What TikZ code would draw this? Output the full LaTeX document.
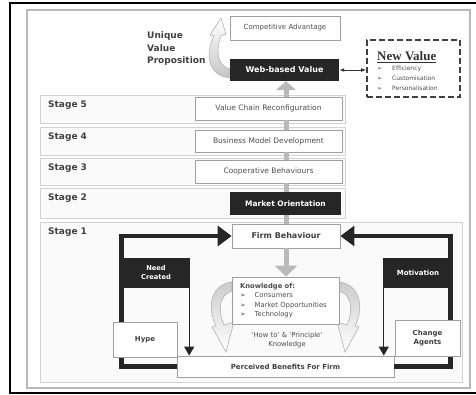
\documentclass[tikz,border=0pt]{standalone}
\usepackage{fontspec}
\setmainfont{DejaVu Sans}
\newfontfamily\headserif{Liberation Serif}
\usetikzlibrary{arrows.meta}

\tikzset{
  band/.style={draw=gray!35, fill=gray!4, line width=0.8pt, inner sep=0pt, anchor=north west},
  stagelabel/.style={anchor=west, inner sep=0pt, text=black!75, font=\fontsize{9}{10}\selectfont\bfseries},
  litebox/.style={draw=gray!75, fill=white, line width=0.8pt, inner sep=0pt, text=gray!60!black, font=\fontsize{7.5}{9}\selectfont},
  boldbox/.style={litebox, text=black!75, align=center, font=\fontsize{7}{9}\selectfont\bfseries},
  darkbox/.style={fill=black!85, inner sep=0pt, text=white, align=center, font=\fontsize{7}{9}\selectfont\bfseries},
  flowline/.style={line width=5pt, gray!55},
  loopline/.style={line width=4.5pt, black!85, -{Triangle[length=14pt,width=20pt]}},
  dropline/.style={line width=1.2pt, black!85, -{Triangle[length=9pt,width=10pt]}},
  curlarrow/.style={draw=gray!60, line width=0.6pt}
}

\begin{document}
\begin{tikzpicture}[x=1pt,y=-1pt]
    \useasboundingbox (0,0) rectangle (476,395);

    % frames
    \draw[black, line width=2pt] (10,3) rectangle (478,393);
    \draw[gray!55, line width=1.2pt] (27,10) rectangle (470,388);

    % stage bands
    \foreach \n/\top/\h in {5/95/28, 4/127/28, 3/158/27, 2/188/30} {
      \node[band, minimum width=305pt, minimum height=\h pt] (band\n) at (40,\top) {};
      \node[stagelabel] (label\n) at ([xshift=8pt,yshift=-10pt]band\n.north west) {Stage \n};
    }
    \node[band, minimum width=422pt, minimum height=160pt] (band1) at (40,222) {};
    \node[stagelabel] (label1) at ([xshift=8pt,yshift=-10pt]band1.north west) {Stage 1};

    % curled arrows
    \path[curlarrow, top color=white, bottom color=gray!45]
      (230,78) .. controls (209,76) and (204,55) .. (214,36)
      -- (210,35) -- (221,18) -- (226,34) -- (221,36)
      .. controls (215,52) and (218,66) .. (230,69) -- cycle;
    \path[curlarrow, top color=gray!40, bottom color=white]
      (232,282) .. controls (212,284) and (206,306) .. (216,326)
      -- (212,327) -- (226,352) -- (234,322) -- (224,325)
      .. controls (217,309) and (220,294) .. (232,291) -- cycle;
    \path[curlarrow, top color=gray!40, bottom color=white]
      (339,282) .. controls (359,284) and (365,306) .. (355,326)
      -- (359,327) -- (345,352) -- (337,322) -- (347,325)
      .. controls (354,309) and (351,294) .. (339,291) -- cycle;

    \node[anchor=west, align=left, inner sep=0pt, text=black!75, font=\fontsize{9}{12.5}\selectfont\bfseries] (uvp) at (147,49) {Unique\\Value\\Proposition};

    % value chain boxes
    \node[litebox, minimum width=110pt, minimum height=24pt, font=\fontsize{7}{9}\selectfont] (compadv) at (285,28) {Competitive Advantage};
    \node[darkbox, minimum width=109pt, minimum height=22pt, font=\fontsize{8}{9}\selectfont\bfseries] (webval) at (284.5,70) {Web-based Value};
    \node[litebox, minimum width=147pt, minimum height=23pt] (valchain) at (268.5,108.5) {Value Chain Reconfiguration};
    \node[litebox, minimum width=147pt, minimum height=22pt] (busmodel) at (268.5,141) {Business Model Development};
    \node[litebox, minimum width=147pt, minimum height=23pt] (coop) at (268.5,171.5) {Cooperative Behaviours};
    \node[darkbox, minimum width=111pt, minimum height=23pt, font=\fontsize{7.5}{9}\selectfont\bfseries] (market) at (285.5,203.5) {Market Orientation};
    \node[boldbox, minimum width=108pt, minimum height=24pt, font=\fontsize{8}{9}\selectfont\bfseries] (firm) at (286,236) {Firm Behaviour};
    \node[litebox, minimum height=47pt, text width=91pt, inner xsep=8pt, align=left, font=\fontsize{6.8}{9.3}\selectfont] (know) at (285.5,300.5)
      {\textbf{Knowledge of:}\\➢\hspace{9pt}Consumers\\➢\hspace{9pt}Market Opportunities\\➢\hspace{9pt}Technology};
    \node[text=gray!60!black, align=center, font=\fontsize{6.8}{9}\selectfont] (howto) at (287,340) {`How to' \& `Principle'\\Knowledge};
    \node[boldbox, minimum width=217pt, minimum height=21pt] (perc) at (285.5,366.5) {Perceived Benefits For Firm};

    % new value
    \node[draw=gray!50!black, line width=1.6pt, dash pattern=on 6pt off 3pt, minimum width=93pt, minimum height=57pt] (newval) at (413.5,68.5) {};
    \node[anchor=base west, inner sep=0pt, text=black!80, font=\headserif\fontsize{13}{14}\selectfont\bfseries] (nvtitle) at (377,61) {\underline{New Value}};
    \foreach \item/\y in {Efficiency/68.5, Customisation/78.5, Personalisation/88.5}
      \node[anchor=west, inner sep=0pt, text=gray!60!black, font=\fontsize{6}{7}\selectfont] (nv\item) at (377,\y) {➢\hspace{10pt}\item};
    \draw[{Latex[length=5pt]}-{Latex[length=5pt]}, line width=0.8pt, black!80] (webval.east) -- (webval.east -| newval.west);

    % gray flow
    \foreach \lo/\hi in {firm/market, market/coop, coop/busmodel, busmodel/valchain}
      \draw[flowline] (firm.north |- \lo.north) -- (firm.north |- \hi.south);
    \draw[flowline, -{Triangle[length=9pt,width=20pt]}] (firm.north |- valchain.north) -- (firm.north |- webval.south);
    \draw[flowline, -{Triangle[length=11pt,width=22pt]}] (firm.south) -- (firm.south |- know.north);

    % feedback loops
    \draw[loopline] (perc.west) -| ([xshift=-110pt]firm.west) -- (firm.west);
    \draw[loopline] (perc.east) -| ([xshift=110pt]firm.east) -- (firm.east);

    \node[darkbox, minimum width=68pt, minimum height=30pt, font=\fontsize{6.7}{9}\selectfont\bfseries] (needc) at (156,273) {Need\\Created};
    \node[darkbox, minimum width=70pt, minimum height=30pt] (motiv) at (418,273) {Motivation};
    \node[boldbox, minimum width=64pt, minimum height=35pt] (hype) at (145,339.5) {Hype};
    \node[boldbox, minimum width=65pt, minimum height=36pt] (change) at (427.5,338) {Change\\Agents};

    \coordinate (ncfoot) at ([xshift=-1pt]needc.south east);
    \coordinate (mvfoot) at ([xshift=1pt]motiv.south west);
    \draw[dropline] (ncfoot) -- (ncfoot |- perc.north);
    \draw[dropline] (mvfoot) -- (mvfoot |- perc.north);

\end{tikzpicture}
\end{document}
